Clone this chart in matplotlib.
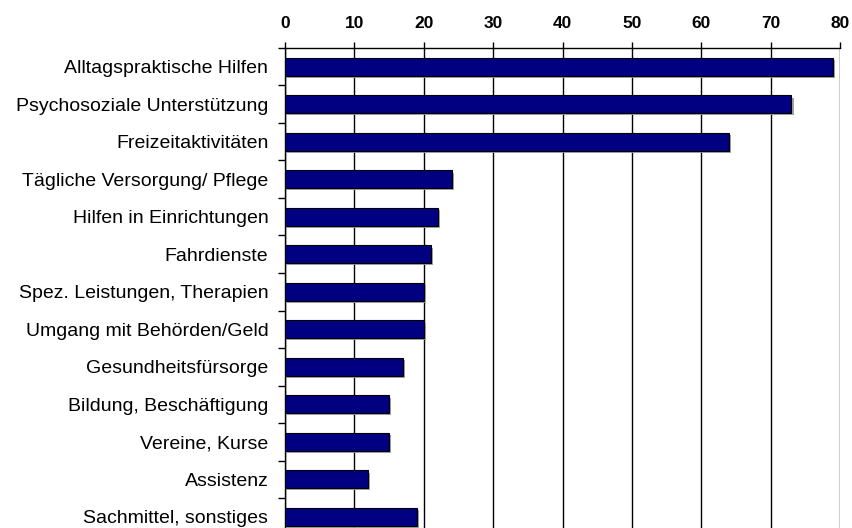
import matplotlib
matplotlib.use("Agg")
import matplotlib.pyplot as plt
import matplotlib.patheffects as pe
import numpy as np

plt.rcParams['font.family'] = ['Liberation Sans', 'DejaVu Sans']

kategorien = [
    "Alltagspraktische Hilfen",
    "Psychosoziale Unterstützung",
    "Freizeitaktivitäten",
    "Tägliche Versorgung/ Pflege",
    "Hilfen in Einrichtungen",
    "Fahrdienste",
    "Spez. Leistungen, Therapien",
    "Umgang mit Behörden/Geld",
    "Gesundheitsfürsorge",
    "Bildung, Beschäftigung",
    "Vereine, Kurse",
    "Assistenz",
    "Sachmittel, sonstiges",
]
werte = [79, 73, 64, 24, 22, 21, 20, 20, 17, 15, 15, 12, 19]
xticks = [0, 10, 20, 30, 40, 50, 60, 70, 80]

W, H = 852, 528
fig = plt.figure(figsize=(W/100, H/100), dpi=100)
# axes box in pixels: x 285..840, y 48..535.5 (bottom runs off the figure)
ax = fig.add_axes([285/W, (H-535.5)/H, (840-285)/W, (535.5-48)/H])

y = np.arange(len(kategorien))
bars = ax.barh(y, werte, height=0.47, color='#000080', edgecolor='black',
               linewidth=0.8, zorder=3)
for b in bars:
    b.set_path_effects([pe.SimplePatchShadow(offset=(1.5, -1.5),
                                             shadow_rgbFace='#999999', alpha=0.9),
                        pe.Normal()])

ax.set_xlim(0, 80)
ax.set_ylim(len(kategorien) - 0.5, -0.5)
ax.set_xticks(xticks)
ax.xaxis.tick_top()
ax.tick_params(axis='x', which='major', direction='out', length=4.5, width=1,
               labelsize=12.5, pad=8)
for lbl in ax.get_xticklabels():
    lbl.set_fontweight('bold')
ax.grid(axis='x', color='black', linewidth=1, zorder=0)

ax.set_yticks(y)
ax.set_yticklabels(kategorien, fontsize=14)
ax.tick_params(axis='y', which='major', length=0, pad=12)
ax.set_yticks(np.arange(len(kategorien) + 1) - 0.5, minor=True)
ax.tick_params(axis='y', which='minor', direction='out', length=5, width=1)

for s in ['right', 'bottom']:
    ax.spines[s].set_visible(False)
ax.spines['top'].set_linewidth(1)
ax.spines['left'].set_linewidth(1)

fig.savefig("out.png", dpi=100)
